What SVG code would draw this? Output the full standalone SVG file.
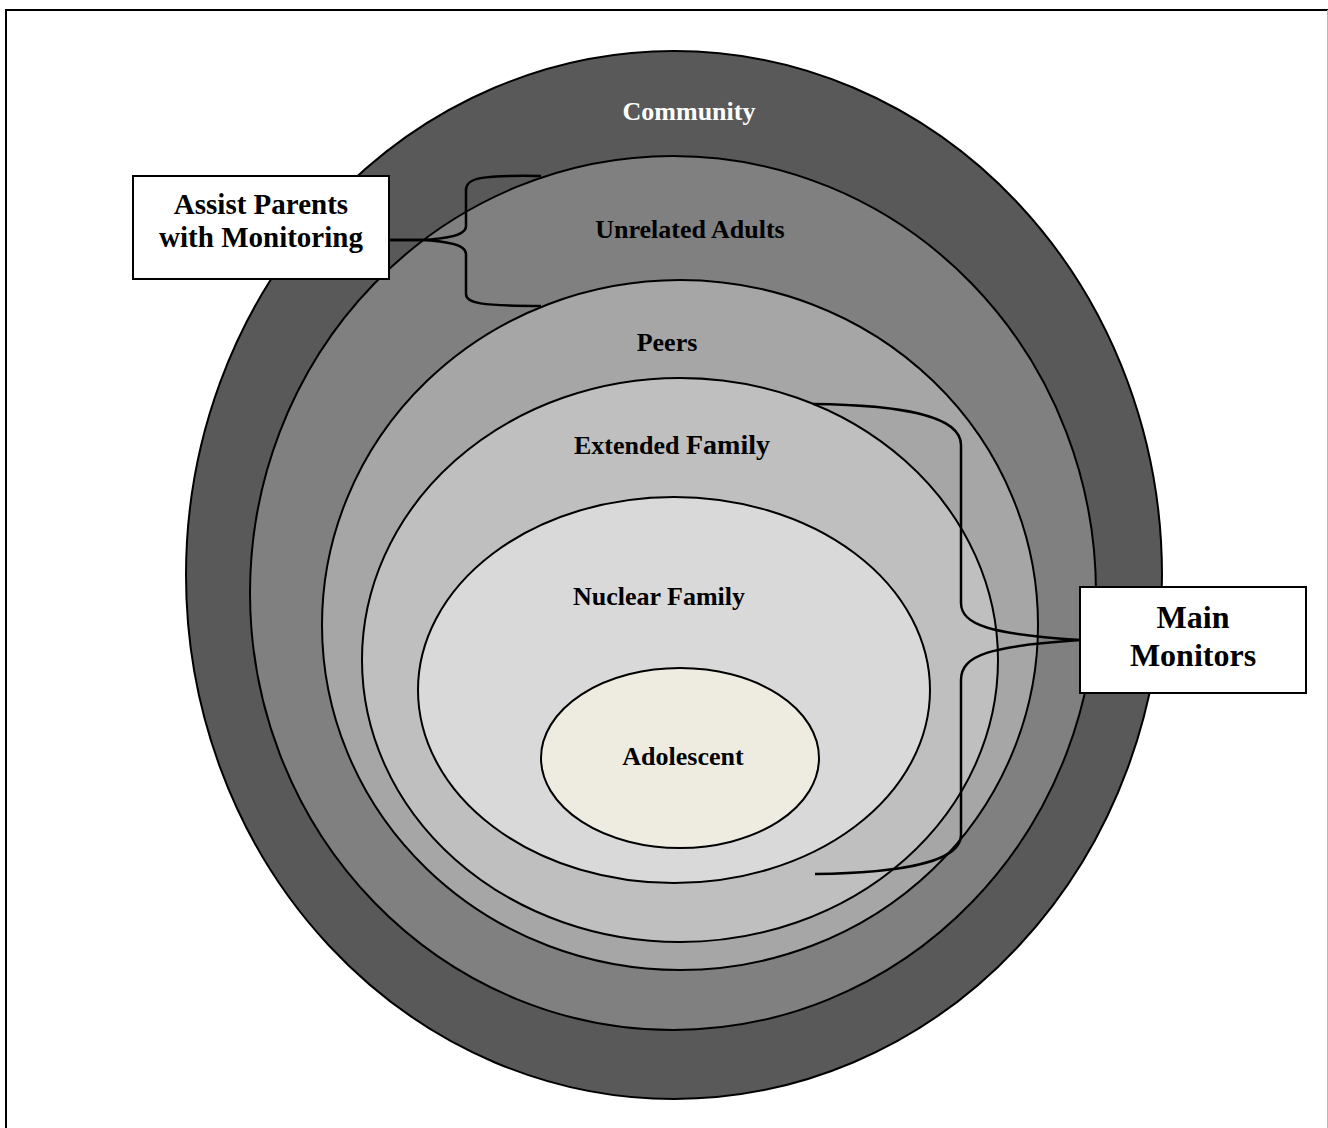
<svg xmlns="http://www.w3.org/2000/svg" width="1328" height="1128" viewBox="0 0 1328 1128">
<style>
.ring{stroke:#000;stroke-width:2}
.lbl{font-family:"Liberation Serif","Times New Roman",serif;font-weight:bold;font-size:26px;fill:#000;text-anchor:middle}
.box{fill:#fff;stroke:#000;stroke-width:2}
.brace{fill:none;stroke:#000;stroke-width:2.5}
</style>
<rect width="1328" height="1128" fill="#fff"/>
<path d="M6,1128 V10 H1328" fill="none" stroke="#000" stroke-width="2"/>
<line x1="1327.5" y1="10" x2="1327.5" y2="1128" stroke="#b8b8b8" stroke-width="1"/>

<g id="community">
<ellipse class="ring" cx="674" cy="575" rx="488" ry="524" fill="#595959"/>
<text class="lbl" x="689" y="120" fill="#fff" style="fill:#fff">Community</text>
</g>
<g id="unrelated-adults">
<ellipse class="ring" cx="673" cy="593" rx="423" ry="437" fill="#808080"/>
<text class="lbl" x="690" y="238">Unrelated Adults</text>
</g>
<g id="peers">
<ellipse class="ring" cx="680" cy="625" rx="358" ry="345" fill="#a6a6a6"/>
<text class="lbl" x="667" y="351">Peers</text>
</g>
<g id="extended-family">
<ellipse class="ring" cx="680" cy="660" rx="318" ry="282" fill="#bfbfbf"/>
<text class="lbl" x="672" y="454"><tspan>Extended </tspan><tspan style="font-size:28px">Family</tspan></text>
</g>
<g id="nuclear-family">
<ellipse class="ring" cx="674" cy="690" rx="256" ry="193" fill="#d9d9d9"/>
<text class="lbl" x="659" y="605">Nuclear Family</text>
</g>
<g id="adolescent">
<ellipse class="ring" cx="680" cy="758" rx="139" ry="90" fill="#eeece1"/>
<text class="lbl" x="683" y="765">Adolescent</text>
</g>

<g id="connectors">
<path class="brace" d="M541,176 C480,175 466,178 466,190 V226 C466,236 445,239 420,240 H389"/>
<path class="brace" d="M389,240 H420 C445,241 466,244 466,254 V294 C466,303 480,306 541,306"/>
<path class="brace" d="M813,404 C900,405 961,415 961,445 V603 C961,625 990,634 1080,640"/>
<path class="brace" d="M1080,640 C990,646 961,655 961,680 V835 C961,862 900,873 815,874"/>
</g>

<g id="assist-parents">
<rect class="box" x="133" y="176" width="256" height="103"/>
<text class="lbl" x="261" y="214" style="font-size:29px">Assist Parents</text>
<text class="lbl" x="261" y="247" style="font-size:29px">with Monitoring</text>
</g>
<g id="main-monitors">
<rect class="box" x="1080" y="587" width="226" height="106"/>
<text class="lbl" x="1193" y="628" style="font-size:32px">Main</text>
<text class="lbl" x="1193" y="666" style="font-size:32px">Monitors</text>
</g>
</svg>
